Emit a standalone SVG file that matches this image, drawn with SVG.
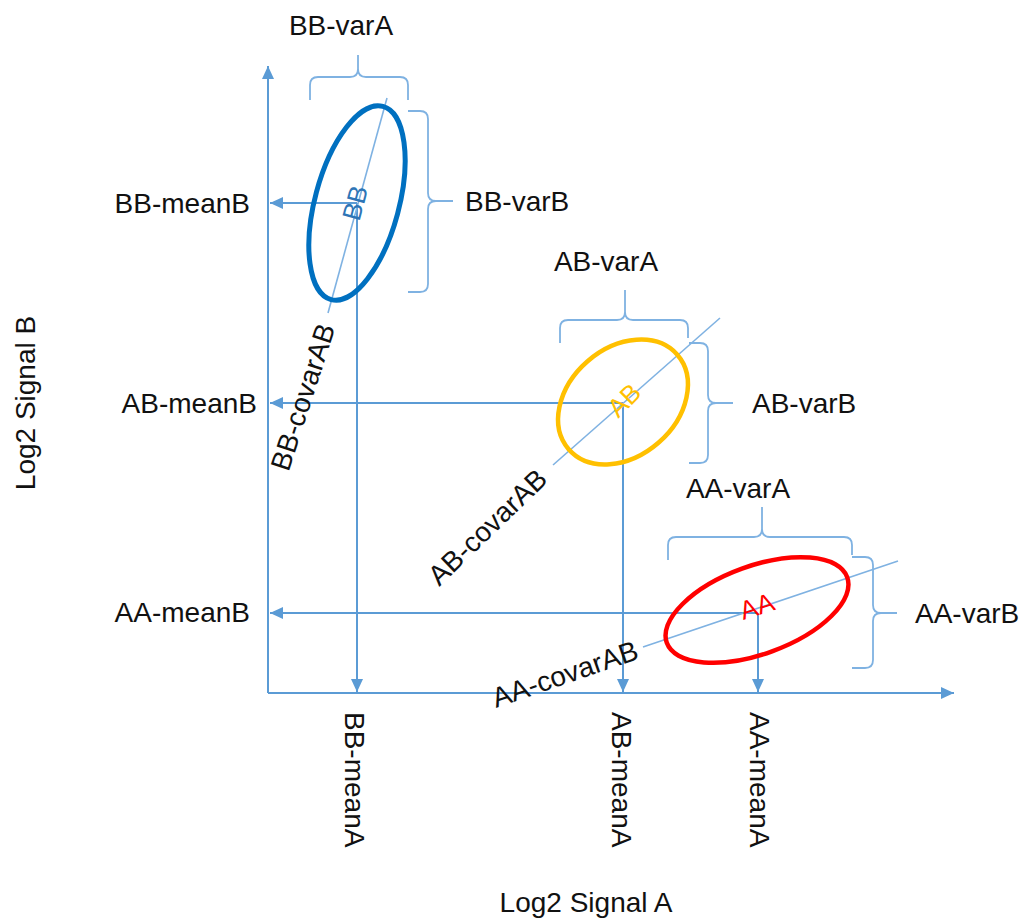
<svg xmlns="http://www.w3.org/2000/svg" width="1026" height="918" viewBox="0 0 1026 918">
<style>
text{font-family:"Liberation Sans",Arial,sans-serif;font-size:28px;fill:#111}
.ax{stroke:#5B9BD5;stroke-width:2;fill:none}
.cv{stroke:#7FB2E2;stroke-width:1.6;fill:none}
.br{stroke:#7FB2E2;stroke-width:1.8;fill:none}
.lbl{font-size:26px}
</style>
<defs>
<marker id="ah" markerUnits="userSpaceOnUse" markerWidth="14" markerHeight="12" refX="13" refY="6" orient="auto"><path d="M0,0 L13,6 L0,12 z" fill="#5B9BD5"/></marker>
</defs>
<rect width="1026" height="918" fill="#fff"/>
<g id="connectors">
<line class="ax" x1="268" y1="693" x2="268" y2="66" marker-end="url(#ah)"/>
<line class="ax" x1="268" y1="693" x2="954" y2="693" marker-end="url(#ah)"/>
<line class="ax" x1="357" y1="203" x2="270" y2="203" marker-end="url(#ah)"/>
<line class="ax" x1="357" y1="203" x2="357" y2="692" marker-end="url(#ah)"/>
<line class="ax" x1="623" y1="403" x2="270" y2="403" marker-end="url(#ah)"/>
<line class="ax" x1="623" y1="403" x2="623" y2="692" marker-end="url(#ah)"/>
<line class="ax" x1="758" y1="613" x2="270" y2="613" marker-end="url(#ah)"/>
<line class="ax" x1="758" y1="613" x2="758" y2="692" marker-end="url(#ah)"/>
<line class="cv" x1="387" y1="98" x2="328" y2="313"/>
<line class="cv" x1="553" y1="465" x2="720" y2="318"/>
<line class="cv" x1="643" y1="647" x2="898" y2="561"/>
</g>
<g id="axis-labels">
<text transform="translate(35,403) rotate(-90)" text-anchor="middle" font-size="27">Log2 Signal B</text>
<text x="586" y="912" text-anchor="middle" font-size="27">Log2 Signal A</text>
</g>
<g id="node-BB">
<ellipse cx="357" cy="203" rx="100" ry="42" transform="rotate(-75 357 203)" fill="none" stroke="#0070C0" stroke-width="5"/>
<text class="lbl" transform="translate(355,203) rotate(-75)" text-anchor="middle" dy="0.35em" style="fill:#2E75B6">BB</text>
<path class="br" d="M310,100 V85 Q310,77 318,77 H350 Q358,77 358,69 V55 M358,69 Q358,77 366,77 H400 Q408,77 408,85 V100"/>
<path class="br" d="M408,111 H420 Q428,111 428,119 V193 Q428,201 436,201 H453 M436,201 Q428,201 428,209 V284 Q428,292 420,292 H408"/>
<text x="341" y="35" text-anchor="middle">BB-varA</text>
<text x="465" y="211">BB-varB</text>
<text x="250" y="213" text-anchor="end">BB-meanB</text>
<text transform="translate(345,712) rotate(90)">BB-meanA</text>
<text transform="translate(312,400) rotate(-72)" text-anchor="middle">BB-covarAB</text>
</g>
<g id="node-AB">
<ellipse cx="623" cy="402" rx="72" ry="54" transform="rotate(-41 623 402)" fill="none" stroke="#FFC000" stroke-width="4.5"/>
<text class="lbl" transform="translate(624,400) rotate(-45)" text-anchor="middle" dy="0.35em" style="fill:#FFC000">AB</text>
<path class="br" d="M560,343 V328 Q560,320 568,320 H617 Q625,320 625,312 V290 M625,312 Q625,320 633,320 H680 Q688,320 688,328 V338"/>
<path class="br" d="M689,343 H700 Q708,343 708,351 V395 Q708,403 716,403 H733 M716,403 Q708,403 708,411 V455 Q708,463 700,463 H689"/>
<text x="606" y="271" text-anchor="middle">AB-varA</text>
<text x="752" y="413">AB-varB</text>
<text x="257" y="413" text-anchor="end">AB-meanB</text>
<text transform="translate(612,712) rotate(90)">AB-meanA</text>
<text transform="translate(494,534) rotate(-44)" text-anchor="middle">AB-covarAB</text>
</g>
<g id="node-AA">
<ellipse cx="757" cy="610" rx="96" ry="44" transform="rotate(-20 757 610)" fill="none" stroke="#FF0000" stroke-width="4.5"/>
<text class="lbl" transform="translate(757,606) rotate(-18)" text-anchor="middle" dy="0.35em" style="fill:#FF0000">AA</text>
<path class="br" d="M668,560 V545 Q668,537 676,537 H754 Q762,537 762,529 V507 M762,529 Q762,537 770,537 H844 Q852,537 852,545 V555"/>
<path class="br" d="M852,557 H865 Q873,557 873,565 V605 Q873,613 881,613 H897 M881,613 Q873,613 873,621 V660 Q873,668 865,668 H852"/>
<text x="738" y="498" text-anchor="middle">AA-varA</text>
<text x="915" y="623">AA-varB</text>
<text x="250" y="622" text-anchor="end">AA-meanB</text>
<text transform="translate(750,712) rotate(90)">AA-meanA</text>
<text transform="translate(496,708) rotate(-19)">AA-covarAB</text>
</g>
</svg>
